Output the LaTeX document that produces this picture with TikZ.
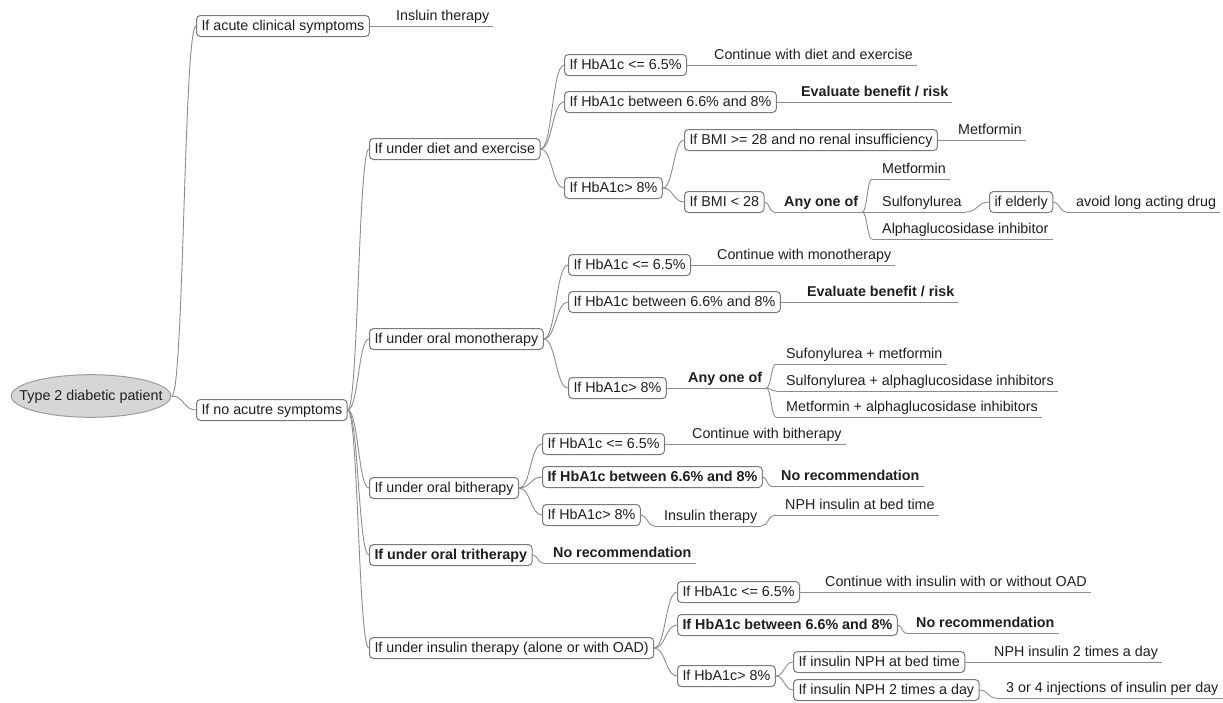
\documentclass[tikz,border=0pt]{standalone}
\usepackage{fontspec}
\setmainfont{Liberation Sans}
\usetikzlibrary{calc}
\definecolor{lc}{HTML}{8C8C8C}
\definecolor{bc}{HTML}{7A7A7A}
\definecolor{rf}{HTML}{D6D6D6}
\definecolor{rb}{HTML}{9A9A9A}
\definecolor{tc}{HTML}{1E1E1E}
\begin{document}
\begin{tikzpicture}[x=1pt,y=-1pt,
  every node/.style={font=\fontsize{14.3}{16}\selectfont, text=tc},
  bf/.style={font=\fontsize{14.3}{16}\selectfont\bfseries},
  box/.style={draw=bc, line width=1pt, rounded corners=4pt, fill=white,
    inner xsep=5pt, inner ysep=4pt, text height=11pt, text depth=2pt, anchor=west},
  ul/.style={draw=lc, line width=0.9pt},
  leaf/.style={inner xsep=0pt, inner ysep=2pt, text height=10pt, text depth=3pt,
    anchor=south west, execute at begin node={\hspace*{10pt}},
    execute at end node={\hspace*{4pt}},
    append after command={(\tikzlastnode.south west) edge[ul] (\tikzlastnode.south east)}},
  rootnode/.style={rectangle, inner xsep=9pt, inner ysep=0pt, minimum height=44pt,
    text height=11pt, text depth=2pt,
    path picture={\filldraw[fill=rf, draw=rb, line width=1pt]
      (path picture bounding box.center) ellipse [x radius=79.8, y radius=21.3];}},
  cn/.style={draw=lc, line width=0.9pt,
    to path={let \p1=(\tikztostart), \p2=(\tikztotarget) in
      .. controls ({(\x1+\x2)/2},\y1) and ({(\x1+\x2)/2},\y2) .. (\tikztotarget) \tikztonodes}}
]
\useasboundingbox (0,0) rectangle (1223,702);

% root and level 1
\node[rootnode] (R) at (91,396) {Type 2 diabetic patient};
\node[box] (A) at (196,26) {If acute clinical symptoms};
\node[leaf] (A1) at (386,26) {Insluin therapy};
\node[box] (B) at (196,410) {If no acutre symptoms};

% level 2
\node[box] (C1) at (369,149) {If under diet and exercise};
\node[box] (C2) at (369,339) {If under oral monotherapy};
\node[box] (C3) at (369,488) {If under oral bitherapy};
\node[box,bf] (C4) at (369,555) {If under oral tritherapy};
\node[box] (C5) at (369,648) {If under insulin therapy (alone or with OAD)};

% diet and exercise
\node[box] (D1) at (564,65) {If HbA1c <= 6.5\%};
\node[leaf] (L1) at (704,65) {Continue with diet and exercise};
\node[box] (D2) at (564,102) {If HbA1c between 6.6\% and 8\%};
\node[leaf,bf] (L2) at (791,102) {Evaluate benefit / risk};
\node[box] (D3) at (564,188) {If HbA1c> 8\%};
\node[box] (E1) at (684,140) {If BMI >= 28 and no renal insufficiency};
\node[leaf] (L3) at (948,140) {Metformin};
\node[box] (E2) at (684,202) {If BMI < 28};
\node[leaf,bf] (L4) at (774,212) {Any one of};
\node[leaf] (L5) at (872,179) {Metformin};
\node[leaf] (L6) at (872,212) {Sulfonylurea};
\node[box] (G1) at (989,202) {if elderly};
\node[leaf] (L7) at (1066,212) {avoid long acting drug};
\node[leaf] (L8) at (872,239) {Alphaglucosidase inhibitor};

% oral monotherapy
\node[box] (D4) at (568,265) {If HbA1c <= 6.5\%};
\node[leaf] (L9) at (707,265) {Continue with monotherapy};
\node[box] (D5) at (568,302) {If HbA1c between 6.6\% and 8\%};
\node[leaf,bf] (L10) at (797,302) {Evaluate benefit / risk};
\node[box] (D6) at (568,388) {If HbA1c> 8\%};
\node[leaf,bf] (L11) at (678,388) {Any one of};
\node[leaf] (L12) at (776,364) {Sufonylurea + metformin};
\node[leaf] (L13) at (776,391) {Sulfonylurea + alphaglucosidase inhibitors};
\node[leaf] (L14) at (776,417) {Metformin + alphaglucosidase inhibitors};

% oral bitherapy
\node[box] (D7) at (542,444) {If HbA1c <= 6.5\%};
\node[leaf] (L15) at (682,444) {Continue with bitherapy};
\node[box,bf] (D8) at (542,477) {If HbA1c between 6.6\% and 8\%};
\node[leaf,bf] (L16) at (771,486) {No recommendation};
\node[box] (D9) at (542,515) {If HbA1c> 8\%};
\node[leaf] (L17) at (654,526) {Insulin therapy};
\node[leaf] (L18) at (775,515) {NPH insulin at bed time};

% oral tritherapy
\node[leaf,bf] (L19) at (543,563) {No recommendation};

% insulin therapy
\node[box] (D10) at (677,592) {If HbA1c <= 6.5\%};
\node[leaf] (L20) at (815,592) {Continue with insulin with or without OAD};
\node[box,bf] (D11) at (677,625) {If HbA1c between 6.6\% and 8\%};
\node[leaf,bf] (L21) at (906,633) {No recommendation};
\node[box] (D12) at (677,676) {If HbA1c> 8\%};
\node[box] (E3) at (793,662) {If insulin NPH at bed time};
\node[leaf] (L22) at (984,662) {NPH insulin 2 times a day};
\node[box] (E4) at (793,690) {If insulin NPH 2 times a day};
\node[leaf] (L23) at (996,698) {3 or 4 injections of insulin per day};

% connectors
\draw[cn] (R.east) to (A.west);
\draw[cn] (R.east) to (B.west);
\draw[cn] (A.east) to (A1.south west);
\foreach \c in {C1,C2,C3,C4,C5} \draw[cn] (B.east) to (\c.west);

\foreach \c in {D1,D2,D3} \draw[cn] (C1.east) to (\c.west);
\draw[cn] (D1.east) to (L1.south west);
\draw[cn] (D2.east) to (L2.south west);
\draw[cn] (D3.east) to (E1.west);
\draw[cn] (D3.east) to (E2.west);
\draw[cn] (E1.east) to (L3.south west);
\draw[cn] (E2.east) to (L4.south west);
\foreach \c in {L5,L6,L8} \draw[cn] (L4.south east) to (\c.south west);
\draw[cn] (L6.south east) to (G1.west);
\draw[cn] (G1.east) to (L7.south west);

\foreach \c in {D4,D5,D6} \draw[cn] (C2.east) to (\c.west);
\draw[cn] (D4.east) to (L9.south west);
\draw[cn] (D5.east) to (L10.south west);
\draw[cn] (D6.east) to (L11.south west);
\foreach \c in {L12,L13,L14} \draw[cn] (L11.south east) to (\c.south west);

\foreach \c in {D7,D8,D9} \draw[cn] (C3.east) to (\c.west);
\draw[cn] (D7.east) to (L15.south west);
\draw[cn] (D8.east) to (L16.south west);
\draw[cn] (D9.east) to (L17.south west);
\draw[cn] (L17.south east) to (L18.south west);

\draw[cn] (C4.east) to (L19.south west);

\foreach \c in {D10,D11,D12} \draw[cn] (C5.east) to (\c.west);
\draw[cn] (D10.east) to (L20.south west);
\draw[cn] (D11.east) to (L21.south west);
\draw[cn] (D12.east) to (E3.west);
\draw[cn] (D12.east) to (E4.west);
\draw[cn] (E3.east) to (L22.south west);
\draw[cn] (E4.east) to (L23.south west);
\end{tikzpicture}
\end{document}
